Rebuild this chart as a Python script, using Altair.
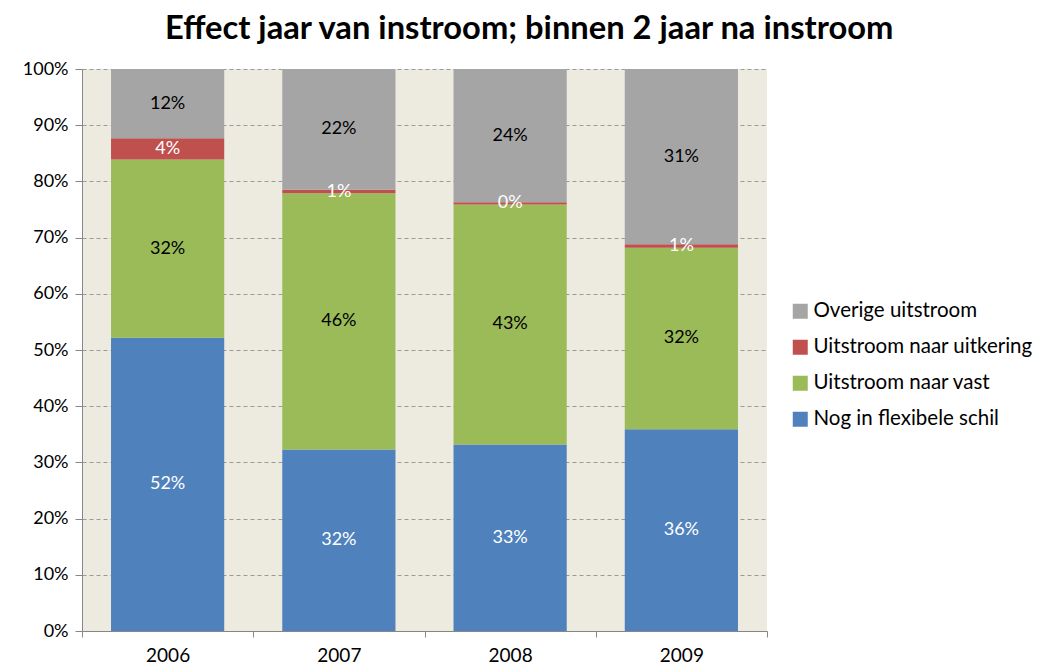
import altair as alt
import pandas as pd

years = ["2006", "2007", "2008", "2009"]
series = ["Nog in flexibele schil", "Uitstroom naar vast", "Uitstroom naar uitkering", "Overige uitstroom"]
nog = [52.2, 32.3, 33.2, 35.9]
vast = [31.7, 45.6, 42.7, 32.3]
uitkering = [3.8, 0.6, 0.4, 0.6]
overige = [12.3, 21.5, 23.7, 31.2]
colors = ["#4F81BD", "#9BBB59", "#C0504D", "#A5A5A5"]
y_ticks = [0, 10, 20, 30, 40, 50, 60, 70, 80, 90, 100]

rows = []
for i, yr in enumerate(years):
    for k, (name, vals) in enumerate(zip(series, [nog, vast, uitkering, overige])):
        rows.append({"year": yr, "series": name, "value": vals[i], "order": k})
df = pd.DataFrame(rows)

legend_order = list(reversed(series))
legend_colors = list(reversed(colors))

FONT = "Lato"

base = alt.Chart(df).transform_stack(
    stack="value", groupby=["year"],
    sort=[alt.SortField("order", order="ascending")], as_=["v0", "v1"]
).transform_calculate(
    mid="(datum.v0 + datum.v1) / 2",
    lbl="format(datum.value, '.0f') + '%'",
    tc="(datum.series === 'Nog in flexibele schil' || datum.series === 'Uitstroom naar uitkering') ? 'white' : 'black'"
)

xscale = alt.Scale(paddingInner=0, paddingOuter=0)

xenc = alt.X(
    "year:N", title=None, sort=years, scale=xscale,
    axis=alt.Axis(labelAngle=0, tickBand="extent", labelFont=FONT, labelFontSize=19,
                  labelColor="black", domainColor="#868686", tickColor="#868686",
                  tickSize=6, labelPadding=9, grid=False),
)

bars = base.mark_bar(width=alt.RelativeBandSize(0.661)).encode(
    x=xenc,
    y=alt.Y("v0:Q", title=None,
            scale=alt.Scale(domain=[0, 100], nice=False),
            axis=alt.Axis(values=y_ticks, labelExpr="datum.value + '%'", labelFont=FONT,
                          labelFontSize=18, labelColor="black", domainColor="#868686",
                          tickColor="#868686", tickSize=7, labelPadding=7,
                          grid=True, gridColor="#9a9a9a", gridDash=[4, 3], gridWidth=1)),
    y2="v1:Q",
    color=alt.Color("series:N", scale=alt.Scale(domain=legend_order, range=legend_colors),
                    legend=alt.Legend(title=None, orient="none", legendX=708, legendY=232,
                                      labelFont=FONT, labelFontSize=20.5, labelColor="black",
                                      labelLimit=400,
                                      symbolType="square", symbolSize=225, symbolStrokeWidth=0,
                                      rowPadding=15, labelOffset=3)),
)

text = base.mark_text(font=FONT, fontSize=18).encode(
    x=alt.X("year:N", sort=years, scale=xscale),
    y=alt.Y("mid:Q"),
    text="lbl:N",
    color=alt.Color("tc:N", scale=None),
)

chart = alt.layer(bars, text).properties(
    width=685, height=562,
    title=alt.TitleParams("Effect jaar van instroom; binnen 2 jaar na instroom", font=FONT,
                          fontSize=32.7, fontWeight="bold", color="black", anchor="start",
                          frame="group", dx=83, offset=14),
    autosize=alt.AutoSizeParams(type="none"),
    padding={"left": 74, "top": 61, "right": 266, "bottom": 40},
).configure_view(fill="#EDEAE0", stroke=None)

chart.save("out.html", embed_options={"renderer": "svg", "actions": False})
